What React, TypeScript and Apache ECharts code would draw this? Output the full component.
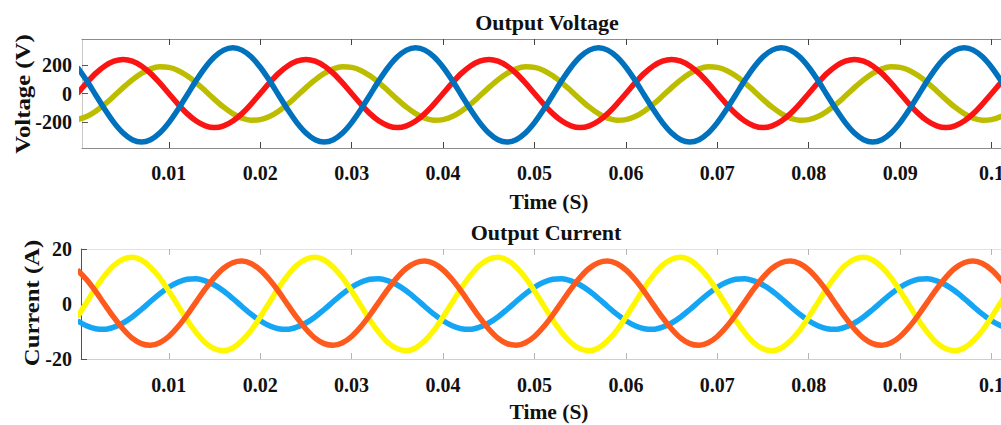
import React, { useEffect, useRef } from "react";
import * as echarts from "echarts";

// Time samples (s)
const timeS = [
  0, 0.001, 0.002, 0.003, 0.004, 0.005, 0.006, 0.007, 0.008, 0.009,
  0.01, 0.011, 0.012, 0.013, 0.014, 0.015, 0.016, 0.017, 0.018, 0.019,
  0.02, 0.021, 0.022, 0.023, 0.024, 0.025, 0.026, 0.027, 0.028, 0.029,
  0.03, 0.031, 0.032, 0.033, 0.034, 0.035, 0.036, 0.037, 0.038, 0.039,
  0.04, 0.041, 0.042, 0.043, 0.044, 0.045, 0.046, 0.047, 0.048, 0.049,
  0.05, 0.051, 0.052, 0.053, 0.054, 0.055, 0.056, 0.057, 0.058, 0.059,
  0.06, 0.061, 0.062, 0.063, 0.064, 0.065, 0.066, 0.067, 0.068, 0.069,
  0.07, 0.071, 0.072, 0.073, 0.074, 0.075, 0.076, 0.077, 0.078, 0.079,
  0.08, 0.081, 0.082, 0.083, 0.084, 0.085, 0.086, 0.087, 0.088, 0.089,
  0.09, 0.091, 0.092, 0.093, 0.094, 0.095, 0.096, 0.097, 0.098, 0.099,
  0.1, 0.101, 0.102,
];

// Output voltage (V)
const voltRed = [
  0, 74, 141, 193, 227, 239, 227, 193, 141, 74, 0, -74, -141, -193, -227, -239, -227, -193, -141, -74,
  0, 74, 141, 193, 227, 239, 227, 193, 141, 74, 0, -74, -141, -193, -227, -239, -227, -193, -141, -74,
  0, 74, 141, 193, 227, 239, 227, 193, 141, 74, 0, -74, -141, -193, -227, -239, -227, -193, -141, -74,
  0, 74, 141, 193, 227, 239, 227, 193, 141, 74, 0, -74, -141, -193, -227, -239, -227, -193, -141, -74,
  0, 74, 141, 193, 227, 239, 227, 193, 141, 74, 0, -74, -141, -193, -227, -239, -227, -193, -141, -74,
  0, 74, 141,
];
const voltOlive = [
  -183, -162, -124, -75, -18, 41, 96, 141, 173, 187, 183, 162, 124, 75, 18, -41, -96, -141, -173, -187,
  -183, -162, -124, -75, -18, 41, 96, 141, 173, 187, 183, 162, 124, 75, 18, -41, -96, -141, -173, -187,
  -183, -162, -124, -75, -18, 41, 96, 141, 173, 187, 183, 162, 124, 75, 18, -41, -96, -141, -173, -187,
  -183, -162, -124, -75, -18, 41, 96, 141, 173, 187, 183, 162, 124, 75, 18, -41, -96, -141, -173, -187,
  -183, -162, -124, -75, -18, 41, 96, 141, 173, 187, 183, 162, 124, 75, 18, -41, -96, -141, -173, -187,
  -183, -162, -124,
];
const voltBlue = [
  184, 92, -10, -112, -204, -277, -324, -340, -324, -277, -204, -112, -10, 92, 184, 257, 304, 320, 304, 257,
  184, 92, -10, -112, -204, -277, -324, -340, -324, -277, -204, -112, -10, 92, 184, 257, 304, 320, 304, 257,
  184, 92, -10, -112, -204, -277, -324, -340, -324, -277, -204, -112, -10, 92, 184, 257, 304, 320, 304, 257,
  184, 92, -10, -112, -204, -277, -324, -340, -324, -277, -204, -112, -10, 92, 184, 257, 304, 320, 304, 257,
  184, 92, -10, -112, -204, -277, -324, -340, -324, -277, -204, -112, -10, 92, 184, 257, 304, 320, 304, 257,
  184, 92, -10,
];

// Output current (A)
const curYellow = [
  -4.7, 0.5, 5.8, 10.4, 14.1, 16.3, 17.0, 16.0, 13.4, 9.6, 4.7, -0.5, -5.8, -10.4, -14.1, -16.3, -17.0, -16.0, -13.4, -9.6,
  -4.7, 0.5, 5.8, 10.4, 14.1, 16.3, 17.0, 16.0, 13.4, 9.6, 4.7, -0.5, -5.8, -10.4, -14.1, -16.3, -17.0, -16.0, -13.4, -9.6,
  -4.7, 0.5, 5.8, 10.4, 14.1, 16.3, 17.0, 16.0, 13.4, 9.6, 4.7, -0.5, -5.8, -10.4, -14.1, -16.3, -17.0, -16.0, -13.4, -9.6,
  -4.7, 0.5, 5.8, 10.4, 14.1, 16.3, 17.0, 16.0, 13.4, 9.6, 4.7, -0.5, -5.8, -10.4, -14.1, -16.3, -17.0, -16.0, -13.4, -9.6,
  -4.7, 0.5, 5.8, 10.4, 14.1, 16.3, 17.0, 16.0, 13.4, 9.6, 4.7, -0.5, -5.8, -10.4, -14.1, -16.3, -17.0, -16.0, -13.4, -9.6,
  -4.7, 0.5, 5.8,
];
const curBlue = [
  -6.1, -7.9, -9.0, -9.2, -8.4, -6.9, -4.7, -2.0, 0.9, 3.7, 6.1, 7.9, 9.0, 9.2, 8.4, 6.9, 4.7, 2.0, -0.9, -3.7,
  -6.1, -7.9, -9.0, -9.2, -8.4, -6.9, -4.7, -2.0, 0.9, 3.7, 6.1, 7.9, 9.0, 9.2, 8.4, 6.9, 4.7, 2.0, -0.9, -3.7,
  -6.1, -7.9, -9.0, -9.2, -8.4, -6.9, -4.7, -2.0, 0.9, 3.7, 6.1, 7.9, 9.0, 9.2, 8.4, 6.9, 4.7, 2.0, -0.9, -3.7,
  -6.1, -7.9, -9.0, -9.2, -8.4, -6.9, -4.7, -2.0, 0.9, 3.7, 6.1, 7.9, 9.0, 9.2, 8.4, 6.9, 4.7, 2.0, -0.9, -3.7,
  -6.1, -7.9, -9.0, -9.2, -8.4, -6.9, -4.7, -2.0, 0.9, 3.7, 6.1, 7.9, 9.0, 9.2, 8.4, 6.9, 4.7, 2.0, -0.9, -3.7,
  -6.1, -7.9, -9.0,
];
const curOrange = [
  12.4, 8.9, 4.6, -0.2, -4.9, -9.1, -12.4, -14.4, -15.0, -14.1, -11.8, -8.3, -4.0, 0.8, 5.5, 9.7, 13.0, 15.0, 15.6, 14.7,
  12.4, 8.9, 4.6, -0.2, -4.9, -9.1, -12.4, -14.4, -15.0, -14.1, -11.8, -8.3, -4.0, 0.8, 5.5, 9.7, 13.0, 15.0, 15.6, 14.7,
  12.4, 8.9, 4.6, -0.2, -4.9, -9.1, -12.4, -14.4, -15.0, -14.1, -11.8, -8.3, -4.0, 0.8, 5.5, 9.7, 13.0, 15.0, 15.6, 14.7,
  12.4, 8.9, 4.6, -0.2, -4.9, -9.1, -12.4, -14.4, -15.0, -14.1, -11.8, -8.3, -4.0, 0.8, 5.5, 9.7, 13.0, 15.0, 15.6, 14.7,
  12.4, 8.9, 4.6, -0.2, -4.9, -9.1, -12.4, -14.4, -15.0, -14.1, -11.8, -8.3, -4.0, 0.8, 5.5, 9.7, 13.0, 15.0, 15.6, 14.7,
  12.4, 8.9, 4.6,
];

// Tick values
const xTicks = [0.01, 0.02, 0.03, 0.04, 0.05, 0.06, 0.07, 0.08, 0.09, 0.1];
const voltTicks = [-200, 0, 200];
const curTicks = [-20, 0, 20];

const FONT = "'Liberation Serif', 'Times New Roman', serif";

const pairs = (vals: number[]) => timeS.map((t, i) => [t, vals[i]]);

const labelStyle = {
  fontFamily: FONT,
  fontSize: 20,
  fontWeight: "bold" as const,
  color: "#111",
};

const fmtX = (v: number) => String(parseFloat(v.toFixed(3)));

function xAxes(grid: number, min: number, lineCol: string, tickCol: string, topCol: string, margin: number) {
  return [
    {
      type: "value",
      gridIndex: grid,
      position: "bottom",
      min,
      max: 0.103,
      axisLine: { show: true, onZero: false, lineStyle: { color: lineCol, width: 1 } },
      axisTick: { show: true, inside: true, length: 6, customValues: xTicks, lineStyle: { color: tickCol, width: 1 } },
      axisLabel: { show: true, customValues: xTicks, formatter: fmtX, margin, ...labelStyle },
      splitLine: { show: false },
    },
    {
      type: "value",
      gridIndex: grid,
      position: "top",
      min,
      max: 0.103,
      axisLine: { show: true, onZero: false, lineStyle: { color: topCol, width: 1 } },
      axisTick: { show: true, inside: true, length: 6, customValues: xTicks, lineStyle: { color: tickCol, width: 1 } },
      axisLabel: { show: false },
      splitLine: { show: false },
    },
  ];
}

function lineSeries(name: string, vals: number[], color: string, xi: number, yi: number) {
  return {
    name,
    type: "line",
    xAxisIndex: xi,
    yAxisIndex: yi,
    data: pairs(vals),
    showSymbol: false,
    symbol: "none",
    smooth: 0.33,
    lineStyle: { color, width: 5.5 },
    itemStyle: { color },
    clip: true,
  };
}

const textStyle = (text: string, size: number) => ({
  text,
  fontFamily: FONT,
  fontSize: size,
  fontWeight: "bold",
  fill: "#111",
  align: "center",
  verticalAlign: "middle",
});

export default function App() {
  const ref = useRef<HTMLDivElement>(null);

  useEffect(() => {
    if (!ref.current) return;
    const chart = echarts.init(ref.current, undefined, { renderer: "svg" });
    const option = {
      animation: false,
      backgroundColor: "#ffffff",
      grid: [
        { left: 82, top: 39, width: 937, height: 109 },
        { left: 81, top: 249, width: 938, height: 110 },
      ],
      xAxis: [
        ...xAxes(0, 0.0005, "#8c8c8c", "#444444", "#8c8c8c", 15),
        ...xAxes(1, 0.0004, "#cfcfcf", "#b5b5b5", "#e2e2e2", 16),
      ],
      yAxis: [
        {
          type: "value",
          gridIndex: 0,
          min: -382,
          max: 382,
          axisLine: { show: true, onZero: false, lineStyle: { color: "#c8c8c8", width: 1 } },
          axisTick: { show: true, inside: true, length: 6, customValues: voltTicks, lineStyle: { color: "#555555" } },
          axisLabel: { show: true, customValues: voltTicks, margin: 10, ...labelStyle },
          splitLine: { show: false },
        },
        {
          type: "value",
          gridIndex: 1,
          min: -20,
          max: 20,
          interval: 20,
          axisLine: { show: true, onZero: false, lineStyle: { color: "#505050", width: 1 } },
          axisTick: { show: true, inside: true, length: 6, customValues: curTicks, lineStyle: { color: "#505050" } },
          axisLabel: { show: true, customValues: curTicks, margin: 9, ...labelStyle },
          splitLine: { show: false },
        },
      ],
      series: [
        lineSeries("Va", voltOlive, "#BDBD00", 0, 0),
        lineSeries("Vb", voltRed, "#FA1414", 0, 0),
        lineSeries("Vc", voltBlue, "#0072BD", 0, 0),
        lineSeries("Ia", curBlue, "#14A5F5", 2, 1),
        lineSeries("Ib", curYellow, "#FFF700", 2, 1),
        lineSeries("Ic", curOrange, "#FF5A1E", 2, 1),
      ],
      graphic: [
        { type: "text", x: 547, y: 22, style: textStyle("Output Voltage", 22) },
        { type: "text", x: 549, y: 202, style: textStyle("Time (S)", 21.5) },
        { type: "text", x: 546, y: 232, style: textStyle("Output Current", 22) },
        { type: "text", x: 549, y: 412, style: textStyle("Time (S)", 21.5) },
        { type: "text", x: 23, y: 94, rotation: Math.PI / 2, scaleX: 1.18, style: textStyle("Voltage (V)", 21) },
        { type: "text", x: 32, y: 303, rotation: Math.PI / 2, scaleX: 1.175, style: textStyle("Current (A)", 21) },
      ],
    };
    chart.setOption(option as any);
    return () => chart.dispose();
  }, []);

  return (
    <div style={{ position: "fixed", left: 0, top: 0, width: 1001, height: 425, overflow: "hidden", background: "#fff" }}>
      <div ref={ref} style={{ width: 1040, height: 425 }} />
    </div>
  );
}
